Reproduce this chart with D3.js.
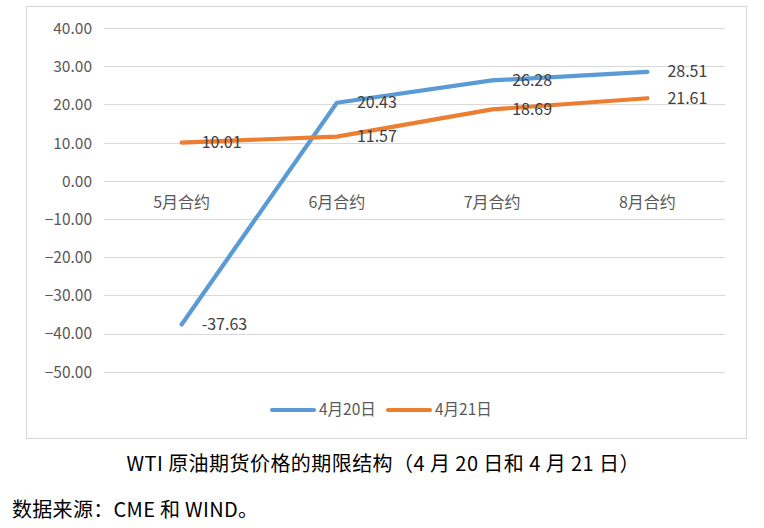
<!DOCTYPE html>
<html><head><meta charset="utf-8">
<script src="https://cdn.jsdelivr.net/npm/d3@7"></script>
<style>body{margin:0;background:#fff;} text{font-family:"Noto Sans CJK SC","Noto Sans",sans-serif;}</style>
</head><body><svg id="c" width="764" height="528"></svg>
<script>
const categories = ["5月合约","6月合约","7月合约","8月合约"];
const seriesNames = ["4月20日","4月21日"];
const apr20 = [-37.63, 20.43, 26.28, 28.51];
const apr21 = [10.01, 11.57, 18.69, 21.61];
const yTicks = [40,30,20,10,0,-10,-20,-30,-40,-50];
const colors = ["#5B9BD5","#ED7D31"];
const titleText = "WTI 原油期货价格的期限结构（4 月 20 日和 4 月 21 日）";
const sourceText = "数据来源：CME 和 WIND。";

const svg = d3.select("#c");
svg.append("rect").attr("x",26.5).attr("y",6.5).attr("width",720).attr("height",432)
  .attr("fill","#fff").attr("stroke","#D9D9D9").attr("stroke-width",1.2);

const x = d3.scaleBand().domain(categories).range([104,725]);
const y = d3.scaleLinear().domain([-50,40]).range([371.7,28]);
const cx = d => x(d) + x.bandwidth()/2;

svg.append("g").selectAll("line").data(yTicks).join("line")
  .attr("x1",104).attr("x2",725).attr("y1",d=>Math.round(y(d))+0.5).attr("y2",d=>Math.round(y(d))+0.5)
  .attr("stroke","#D9D9D9").attr("stroke-width",1.2);

const yAxis = d3.axisLeft(y).tickValues(yTicks).tickFormat(d3.format(".2f")).tickSize(0).tickPadding(0);
const ga = svg.append("g").attr("transform","translate(92,0)").call(yAxis);
ga.select(".domain").remove();
ga.selectAll("text").attr("font-size",15.5).attr("fill","#595959").attr("dy","0.35em");

const xAxis = d3.axisBottom(x).tickSize(0).tickPadding(0);
const gx = svg.append("g").attr("transform",`translate(0,${y(0)+22})`).call(xAxis);
gx.select(".domain").remove();
gx.selectAll("text").attr("font-size",16).attr("fill","#595959").attr("dy","0.35em");

const line = d3.line().x((d,i)=>cx(categories[i])).y(d=>y(d));
[apr20, apr21].forEach((s,k)=>{
  svg.append("path").datum(s).attr("d",line).attr("fill","none")
    .attr("stroke",colors[k]).attr("stroke-width",4.2).attr("stroke-linecap","round").attr("stroke-linejoin","round");
});
[apr20, apr21].forEach((s,k)=>{
  svg.append("g").selectAll("text").data(s).join("text")
    .attr("x",(d,i)=>cx(categories[i])+20).attr("y",d=>y(d)).attr("dy","0.35em")
    .attr("font-size",16).attr("fill","#404040").text(d=>d.toFixed(2));
});

const legX = [271, 387];
seriesNames.forEach((n,k)=>{
  svg.append("line").attr("x1",legX[k]+1).attr("x2",legX[k]+43).attr("y1",410).attr("y2",410)
    .attr("stroke",colors[k]).attr("stroke-width",4.2).attr("stroke-linecap","round");
  svg.append("text").attr("x",legX[k]+48).attr("y",410).attr("dy","0.35em")
    .attr("font-size",15.5).attr("fill","#595959").text(n);
});

svg.append("text").attr("x",383).attr("y",464).attr("dy","0.35em").attr("text-anchor","middle")
  .attr("font-size",20).attr("fill","#000").attr("textLength",513).attr("lengthAdjust","spacing").text(titleText);
svg.append("text").attr("x",12).attr("y",510).attr("dy","0.35em")
  .attr("font-size",20).attr("fill","#000").attr("textLength",246).attr("lengthAdjust","spacing").text(sourceText);
</script></body></html>
